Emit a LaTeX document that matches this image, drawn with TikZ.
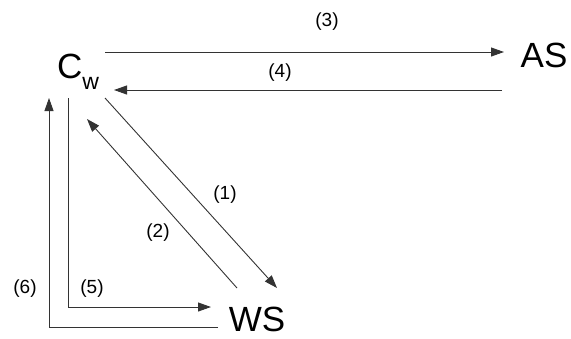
\documentclass[tikz,border=0pt]{standalone}
\usepackage{fontspec}
\setmainfont{Liberation Sans}
\usetikzlibrary{arrows.meta}
\begin{document}
\begin{tikzpicture}[x=1pt,y=-1pt,
 conn/.style={draw=black!80, line width=0.9pt, -{Triangle[length=13pt,width=9pt]}},
 big/.style={font=\fontsize{35}{35}\selectfont, inner sep=0pt},
 lbl/.style={font=\fontsize{19}{19}\selectfont, inner sep=0pt}]
\useasboundingbox (0,0) rectangle (571,338);
% main nodes
\node[big, anchor=base west] (cw) at (57,78) {C\raisebox{-11pt}{\fontsize{23}{23}\selectfont w}};
\node[big] (as) at (544,55) {AS};
\node[big] (ws) at (257,319) {WS};
% labels
\node[lbl] (l3) at (327,22) {(3)};
\node[lbl] (l4) at (280,73) {(4)};
\node[lbl] (l1) at (225,195) {(1)};
\node[lbl] (l2) at (158,233) {(2)};
\node[lbl] (l5) at (92,289) {(5)};
\node[lbl] (l6) at (25,289) {(6)};
% connector ends
\coordinate (a3s) at (105,52);
\coordinate (a3e) at (504,52);
\coordinate (a4s) at (502,90);
\coordinate (a4e) at (114,90);
\coordinate (a1s) at (105,98);
\coordinate (a1e) at (277,288);
\coordinate (a2s) at (237,288);
\coordinate (a2e) at (87,119);
\coordinate (a5s) at (68,98);
\coordinate (a5c) at (68,307);
\coordinate (a5e) at (211,307);
\coordinate (a6s) at (218,327);
\coordinate (a6c) at (49,327);
\coordinate (a6e) at (49,98);
% connectors
\draw[conn] (a3s) -- (a3e);
\draw[conn] (a4s) -- (a4e);
\draw[conn] (a1s) -- (a1e);
\draw[conn] (a2s) -- (a2e);
\draw[conn] (a5s) -- (a5c) -- (a5e);
\draw[conn] (a6s) -- (a6c) -- (a6e);
\end{tikzpicture}
\end{document}
